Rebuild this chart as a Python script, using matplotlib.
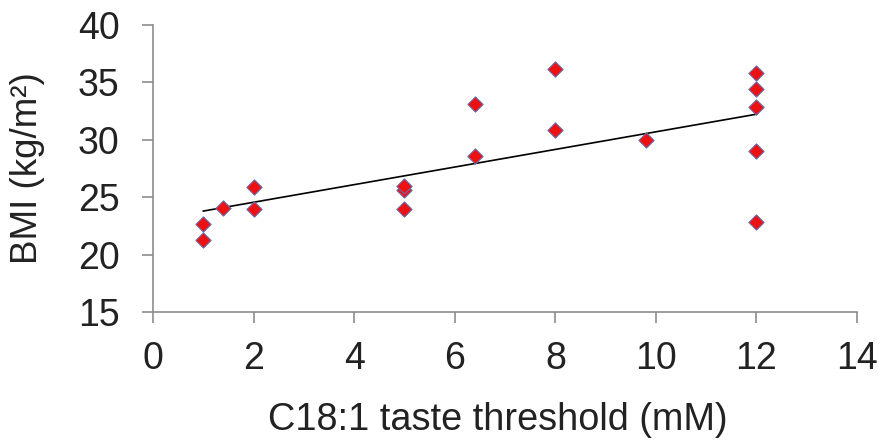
import numpy as np
import matplotlib
matplotlib.use("Agg")
import matplotlib.pyplot as plt

threshold = [1, 1, 1.4, 2, 2, 5, 5, 5, 6.4, 6.4, 8, 8, 9.8, 12, 12, 12, 12, 12]
bmi = [21.3, 22.7, 24.1, 25.9, 24.0, 25.6, 26.0, 24.0, 33.1, 28.6, 36.2, 30.9, 30.0, 35.8, 34.4, 32.9, 29.0, 22.8]
xticks = [0, 2, 4, 6, 8, 10, 12, 14]
yticks = [15, 20, 25, 30, 35, 40]

plt.rcParams['font.family'] = ['Liberation Sans', 'DejaVu Sans']
fig = plt.figure(figsize=(8.81, 4.40), dpi=100)
ax = fig.add_axes([0.1737, 0.291, 0.7991, 0.652])

x = np.array(threshold)
y = np.array(bmi)
k, b = np.polyfit(x, y, 1)
xl = np.array([x.min(), x.max()])
ax.plot(xl, k * xl + b, color='black', lw=1.2, zorder=2)
ax.scatter(x, y, marker='D', s=60, color='#ee1111', edgecolors='#6a6aa8', linewidths=0.8, zorder=3)

ax.set_xlim(0, 14)
ax.set_ylim(15, 40)
ax.set_xticks(xticks)
ax.set_yticks(yticks)
for s in ['top', 'right']:
    ax.spines[s].set_visible(False)
for s in ['left', 'bottom']:
    ax.spines[s].set_color('#8c8c8c')
    ax.spines[s].set_linewidth(1.2)
ax.tick_params(axis='both', colors='#8c8c8c', width=1.2, length=8, labelsize=27, labelcolor='#222222', direction='out')
ax.tick_params(axis='x', pad=13)
ax.tick_params(axis='y', pad=16)
ax.set_xlabel('C18:1 taste threshold (mM)', fontsize=27.3, color='#222222')
ax.xaxis.set_label_coords(0.49, -0.315)
ax.set_ylabel('BMI (kg/m²)', fontsize=26.5, color='#222222', labelpad=24)

fig.savefig('out.png', dpi=100)
